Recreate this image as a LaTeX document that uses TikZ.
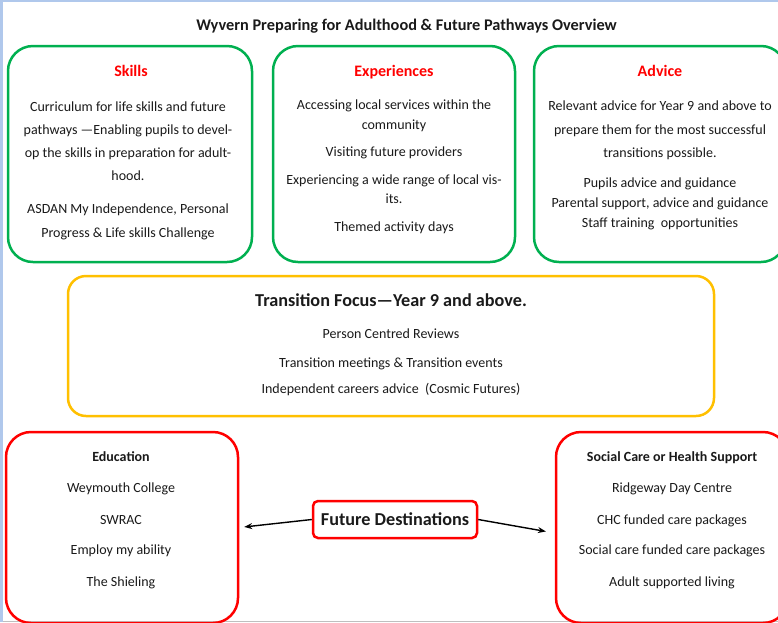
\documentclass[tikz,border=0pt]{standalone}
\usepackage{fontspec}
\setmainfont{Carlito}
\usepackage{xcolor}
\usetikzlibrary{arrows.meta}
\usetikzlibrary{positioning}

\definecolor{boxgreen}{RGB}{0,176,80}
\definecolor{boxyellow}{RGB}{255,192,0}
\definecolor{boxred}{RGB}{255,0,0}
\definecolor{framblue}{RGB}{176,200,236}
\definecolor{txt}{RGB}{26,26,26}

\begin{document}
\begin{tikzpicture}[x=1pt, y=-1pt,
	greenbox/.style={draw=boxgreen, line width=2.5pt, rounded corners=25pt},
	yellowbox/.style={draw=boxyellow, line width=2.5pt, rounded corners=18pt},
	redbox/.style={draw=boxred, line width=2.5pt, rounded corners=25pt},
	txtline/.style={anchor=base, inner sep=0pt, text=txt, font=\fontsize{14}{16}\selectfont},
	boldline/.style={txtline, font=\bfseries\fontsize{14}{16}\selectfont},
	redhead/.style={anchor=base, inner sep=0pt, text=boxred, font=\bfseries\fontsize{16}{19}\selectfont},
	pointer/.style={-{Stealth[length=8pt, width=6pt]}, line width=1.4pt, black}]
	\useasboundingbox (0,0) rectangle (778,622);
	\fill[white] (0,0) rectangle (778,622);
	% window frame
	\fill[framblue] (0,0) rectangle (3,622);
	\fill[framblue] (0,0) rectangle (778,2);
	\draw[gray!50, line width=1pt] (3,621) -- (778,621);

	\node[anchor=base, inner sep=0pt, text=txt, font=\bfseries\fontsize{16.3}{19}\selectfont] (title) at (406.5,30) {Wyvern Preparing for Adulthood \& Future Pathways Overview};

	% top row
	\node[greenbox, minimum width=244pt, minimum height=216pt] (skills) at (130,154) {};
	\node[greenbox, minimum width=242pt, minimum height=216pt] (exp) at (394,154) {};
	\node[greenbox, minimum width=252pt, minimum height=216pt] (advice) at (660,154) {};

	\node[redhead] (skillsHead) at (131,76) {Skills};
	\node[txtline] (sk1) at (128,111) {Curriculum for life skills and future};
	\node[txtline] (sk2) at (128,134) {pathways —Enabling pupils to devel-};
	\node[txtline] (sk3) at (128,157) {op the skills in preparation for adult-};
	\node[txtline] (sk4) at (128,180) {hood.};
	\node[txtline] (sk5) at (128,213) {ASDAN My Independence, Personal};
	\node[txtline] (sk6) at (128,237) {Progress \& Life skills Challenge};

	\node[redhead] (expHead) at (394,76) {Experiences};
	\node[txtline] (ex1) at (394,109) {Accessing local services within the};
	\node[txtline] (ex2) at (394,129) {community};
	\node[txtline] (ex3) at (394,156) {Visiting future providers};
	\node[txtline] (ex4) at (394,184) {Experiencing a wide range of local vis-};
	\node[txtline] (ex5) at (394,203) {its.};
	\node[txtline] (ex6) at (394,231) {Themed activity days};

	\node[redhead] (adviceHead) at (660,76) {Advice};
	\node[txtline] (ad1) at (660,110) {Relevant advice for Year 9 and above to};
	\node[txtline] (ad2) at (660,134) {prepare them for the most successful};
	\node[txtline] (ad3) at (660,157) {transitions possible.};
	\node[txtline] (ad4) at (660,187) {Pupils advice and guidance};
	\node[txtline] (ad5) at (660,207) {Parental support, advice and guidance};
	\node[txtline] (ad6) at (660,227) {Staff training\ \ opportunities};

	% transition
	\node[yellowbox, minimum width=646pt, minimum height=140pt] (trans) at (391,346) {};
	\node[anchor=base, inner sep=0pt, text=txt, font=\bfseries\fontsize{18.2}{21}\selectfont] (transHead) at (391,306) {Transition Focus—Year 9 and above.};
	\node[txtline] (tr1) at (391,338) {Person Centred Reviews};
	\node[txtline] (tr2) at (391,367) {Transition meetings \& Transition events};
	\node[txtline] (tr3) at (391,393) {Independent careers advice\ \ (Cosmic Futures)};

	% destinations
	\node[redbox, minimum width=232pt, minimum height=191pt] (edu) at (122,527.5) {};
	\node[boldline] (eduHead) at (121,461) {Education};
	\node[txtline] (ed1) at (121,492) {Weymouth College};
	\node[txtline] (ed2) at (121,524) {SWRAC};
	\node[txtline] (ed3) at (121,554) {Employ my ability};
	\node[txtline] (ed4) at (121,586) {The Shieling};

	\node[redbox, minimum width=232pt, minimum height=191pt] (soc) at (672,527.5) {};
	\node[boldline] (socHead) at (672,461) {Social Care or Health Support};
	\node[txtline] (so1) at (672,492) {Ridgeway Day Centre};
	\node[txtline] (so2) at (672,524) {CHC funded care packages};
	\node[txtline] (so3) at (672,554) {Social care funded care packages};
	\node[txtline] (so4) at (672,586) {Adult supported living};

	\node[draw=boxred, line width=2.5pt, rounded corners=5pt, minimum width=164pt, minimum height=37pt, text=txt, font=\bfseries\fontsize{18.2}{21}\selectfont] (fd) at (395,519.5) {Future Destinations};

	\draw[pointer, shorten >=5pt] (fd.west) to (edu.east);
	\draw[pointer, shorten >=9pt] (fd.east) to ([yshift=-5.5pt]soc.west);
\end{tikzpicture}
\end{document}
